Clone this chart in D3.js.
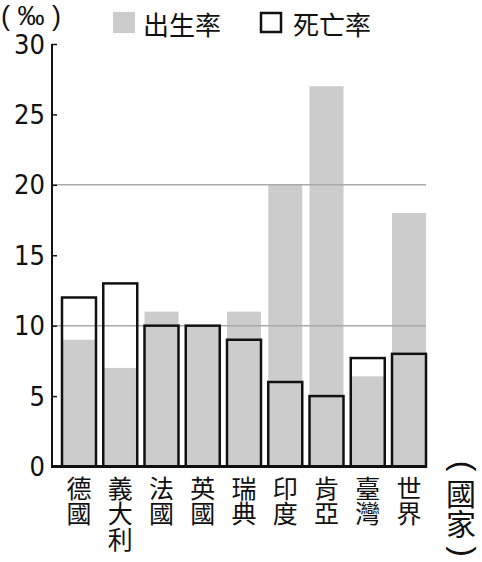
<!DOCTYPE html>
<html>
<head>
<meta charset="utf-8">
<script src="https://cdn.jsdelivr.net/npm/d3@7/dist/d3.min.js"></script>
<style>
  html, body { margin: 0; padding: 0; background: #fff; }
  svg { display: block; }
  .vt { writing-mode: vertical-rl; text-orientation: upright; }
</style>
</head>
<body>
<script>
const countries = ["德國", "義大利", "法國", "英國", "瑞典", "印度", "肯亞", "臺灣", "世界"];
const birthRate = [9, 7, 11, 10, 11, 20, 27, 6.4, 18];
const deathRate = [12, 13, 10, 10, 9, 6, 5, 7.7, 8];
const yTicks = [0, 5, 10, 15, 20, 25, 30];
const gridValues = [10, 20];
const unitLabel = "( ‰ )";
const legendLabels = ["出生率", "死亡率"];
const axisTitle = "國家";

const W = 482, H = 562;
const GRAY = "#cccccc";
const svg = d3.select("body").append("svg").attr("width", W).attr("height", H);

const y = d3.scaleLinear().domain([0, 30]).range([466.5, 44]);
const x = d3.scaleBand().domain(countries).range([52, 436]).paddingInner(0.176).paddingOuter(0.2424);
const axisX = 52;
const plotRight = x(countries[countries.length - 1]) + x.bandwidth();

const data = countries.map((c, i) => ({ c, b: birthRate[i], d: deathRate[i] }));

// white fills of death bars
svg.append("g").selectAll("rect").data(data).join("rect")
  .attr("x", d => x(d.c)).attr("width", x.bandwidth())
  .attr("y", d => y(d.d)).attr("height", d => y(0) - y(d.d))
  .attr("fill", "#fff");

// birth bars
svg.append("g").selectAll("rect").data(data).join("rect")
  .attr("x", d => x(d.c)).attr("width", x.bandwidth())
  .attr("y", d => y(d.b)).attr("height", d => y(0) - y(d.b))
  .attr("fill", GRAY);

// grid lines
svg.append("g").selectAll("line").data(gridValues).join("line")
  .attr("x1", axisX).attr("x2", plotRight)
  .attr("y1", d => y(d)).attr("y2", d => y(d))
  .attr("stroke", "#aaaaaa").attr("stroke-width", 1.5);

// death outlines
svg.append("g").selectAll("rect").data(data).join("rect")
  .attr("x", d => x(d.c)).attr("width", x.bandwidth())
  .attr("y", d => y(d.d)).attr("height", d => y(0) - y(d.d))
  .attr("fill", "none").attr("stroke", "#111").attr("stroke-width", 2.5);

// y axis
const yAxis = d3.axisRight(y).tickValues(yTicks).tickSize(5).tickFormat("");
const ga = svg.append("g").attr("transform", `translate(${axisX},0)`).call(yAxis);
ga.select(".domain").attr("stroke", "#111").attr("stroke-width", 2).attr("d", `M0,${y(30)}V${y(0)}`);
ga.selectAll(".tick line").attr("stroke", "#111").attr("stroke-width", 1.5);

svg.append("g").selectAll("text").data(yTicks).join("text")
  .attr("x", 45).attr("y", d => y(d))
  .attr("text-anchor", "end").attr("dominant-baseline", "central")
  .attr("font-family", "'Liberation Sans Narrow', 'DejaVu Sans Condensed', sans-serif")
  .attr("font-size", 27).attr("fill", "#111")
  .text(d => d);

// baseline
svg.append("line").attr("x1", axisX - 1).attr("x2", plotRight + 1)
  .attr("y1", y(0)).attr("y2", y(0))
  .attr("stroke", "#111").attr("stroke-width", 3);

// category labels (vertical)
const cjk = "'Noto Sans CJK TC', 'Noto Sans CJK SC', sans-serif";
svg.append("g").selectAll("text").data(data).join("text")
  .attr("class", "vt")
  .attr("x", d => x(d.c) + x.bandwidth() / 2).attr("y", 475.5)
  .attr("font-family", cjk).attr("font-size", 25).attr("letter-spacing", 0.5)
  .attr("fill", "#111")
  .text(d => d.c);

// axis title (國家) vertical, with rotated parentheses
const tx = 461, px = 464;
svg.append("text").attr("x", px).attr("y", 466)
  .attr("text-anchor", "middle").attr("dominant-baseline", "central")
  .attr("transform", `rotate(90, ${px}, 466)`)
  .attr("font-family", "'Liberation Sans', sans-serif").attr("font-size", 32).attr("fill", "#111")
  .text("(");
svg.append("text").attr("class", "vt")
  .attr("x", tx).attr("y", 478.5)
  .attr("font-family", cjk).attr("font-size", 30).attr("letter-spacing", 0.5).attr("fill", "#111")
  .text(axisTitle);
svg.append("text").attr("x", px).attr("y", 551.5)
  .attr("text-anchor", "middle").attr("dominant-baseline", "central")
  .attr("transform", `rotate(90, ${px}, 551.5)`)
  .attr("font-family", "'Liberation Sans', sans-serif").attr("font-size", 32).attr("fill", "#111")
  .text(")");

// unit label
svg.append("text").attr("x", 1).attr("y", 24.5)
  .attr("font-family", "'Liberation Sans', sans-serif").attr("font-size", 27).attr("fill", "#111")
  .text(unitLabel);

// legend
svg.append("rect").attr("x", 113).attr("y", 12).attr("width", 22).attr("height", 21).attr("fill", GRAY);
svg.append("text").attr("x", 143).attr("y", 23)
  .attr("dominant-baseline", "central").attr("font-family", cjk).attr("font-size", 26).attr("fill", "#111")
  .text(legendLabels[0]);
svg.append("rect").attr("x", 261).attr("y", 13).attr("width", 20).attr("height", 19)
  .attr("fill", "#fff").attr("stroke", "#111").attr("stroke-width", 2.5);
svg.append("text").attr("x", 293).attr("y", 23)
  .attr("dominant-baseline", "central").attr("font-family", cjk).attr("font-size", 26).attr("fill", "#111")
  .text(legendLabels[1]);
</script>
</body>
</html>
